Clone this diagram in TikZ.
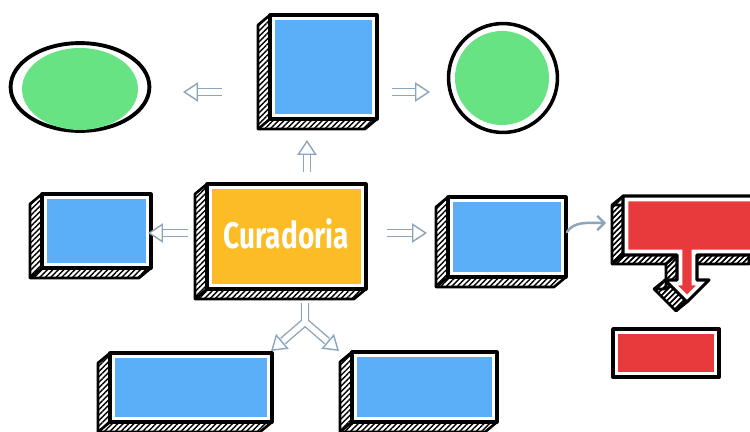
\documentclass[tikz,border=0pt]{standalone}
\usepackage{fontspec}
\usepackage{graphicx}
\usetikzlibrary{arrows.meta,patterns.meta,shapes.geometric,fit}
\newfontfamily\labelfont{Fira Sans}

\definecolor{boxblue}{HTML}{5BAFF8}
\definecolor{boxgreen}{HTML}{67E383}
\definecolor{boxorange}{HTML}{FBBC25}
\definecolor{boxred}{HTML}{E83A3D}
\definecolor{flow}{HTML}{8CA5BA}

\tikzset{
  hatch/.style={pattern={Lines[angle=45,distance=2.2pt,line width=0.8pt]},pattern color=black},
  sideline/.style={draw=black,line width=1.5pt,line join=round,line cap=round},
  face/.style={draw=black,line width=1.8pt,fill=#1,inner sep=0pt,outer sep=0pt,line join=round,
    path picture={\draw[white,line width=6pt] (path picture bounding box.south west) rectangle (path picture bounding box.north east);}},
  boxtext/.style={text=white,inner sep=0pt,anchor=base,font=\labelfont\bfseries\fontsize{21}{21}\selectfont},
  holbody/.style={draw=flow,line width=0.8pt,double=white,double distance=3.2pt,shorten >=6pt,line join=round},
  holtip/.style={draw=white,line width=1.5pt,-{Triangle[length=8.5pt,width=11pt,color=flow,fill=white,line width=0.8pt]}},
  flowline/.style={draw=flow,line width=1.4pt,line cap=round,-{Straight Barb[length=4pt,width=8pt]}},
  ring/.style={draw=black,fill=white,inner sep=0pt,line width=2.2pt}
}

% extruded box: name, left, top, right, bottom, fill colour
\newcommand\solidbox[6]{%
  \fill[hatch] (#2,#3) -- (#2-12,#3+10) -- (#2-12,#5+10) -- (#4-12,#5+10) -- (#4,#5) -- (#2,#5) -- cycle;
  \draw[sideline] (#2,#3) -- (#2-12,#3+10) -- (#2-12,#5+10) -- (#4-12,#5+10) -- (#4,#5);
  \draw[sideline] (#2,#5) -- (#2-12,#5+10);
  \node[face=#6,fit={(#2,#3) (#4,#5)}] (#1) {};
}

% hollow block arrow between two points
\newcommand\hollowarrow[2]{%
  \draw[holbody] (#1) -- (#2);
  \draw[holtip] (#1) -- (#2);
}

\begin{document}
\begin{tikzpicture}[x=0.02cm,y=-0.02cm]
\useasboundingbox (0,0) rectangle (750,432);

% green oval and disc
\node[ring,ellipse,minimum width=79pt,minimum height=50pt] (oval) at (80,87) {};
\fill[boxgreen] (80,89) ellipse [x radius=58,y radius=41];
\node[ring,circle,line width=2pt,minimum size=62pt] (disc) at (503,78) {};
\fill[boxgreen] (502,78) circle [radius=47];

% blue and orange boxes
\solidbox{top}{270}{15}{377}{119}{boxblue}
\solidbox{left}{42}{194}{151}{268}{boxblue}
\solidbox{right}{448}{197}{566}{277}{boxblue}
\solidbox{botleft}{110}{353}{272}{422}{boxblue}
\solidbox{botright}{352}{352}{497}{422}{boxblue}
\solidbox{center}{207}{184}{366}{289}{boxorange}
\node[boxtext] (title) at (center.center |- 0,248) {\scalebox{0.76}[1]{Curadoria}};

% red box with a downward arrow
\coordinate (r1) at (623,196);
\coordinate (r2) at (760,196);
\coordinate (r3) at (760,255);
\coordinate (r4) at (697,255);
\coordinate (r5) at (697,280);
\coordinate (r6) at (709,280);
\coordinate (r7) at (687,302);
\coordinate (r8) at (665,280);
\coordinate (r9) at (677,280);
\coordinate (r10) at (677,255);
\coordinate (r11) at (623,255);
\draw[hatch,sideline,shift={(-11,9)}] (623,196) -- (760,196) -- (760,255) -- (697,255) -- (697,280) -- (709,280) -- (687,302) -- (665,280) -- (677,280) -- (677,255) -- (623,255) -- cycle;
\foreach \a/\b in {r1/r11,r11/r10,r10/r9,r9/r8,r8/r7,r4/r3}
  \fill[hatch] (\a) -- (\b) -- ([shift={(-11,9)}]\b) -- ([shift={(-11,9)}]\a) -- cycle;
\foreach \c in {r1,r11,r10,r9,r8,r7,r3}
  \draw[sideline] (\c) -- ([shift={(-11,9)}]\c);
\begin{scope}
  \clip (r1) -- (r2) -- (r3) -- (r4) -- (r5) -- (r6) -- (r7) -- (r8) -- (r9) -- (r10) -- (r11) -- cycle;
  \fill[boxred] (600,180) rectangle (770,320);
  \draw[white,line width=6pt] (r1) -- (r2) -- (r3) -- (r4) -- (r5) -- (r6) -- (r7) -- (r8) -- (r9) -- (r10) -- (r11) -- cycle;
\end{scope}
\draw[black,line width=1.8pt,line join=round] (r1) -- (r2) -- (r3) -- (r4) -- (r5) -- (r6) -- (r7) -- (r8) -- (r9) -- (r10) -- (r11) -- cycle;

% plain red box
\node[face=boxred,line width=2.2pt,fit={(613,329) (719,377)}] (redlow) {};

% connectors
\coordinate (a1s) at (222,92);  \coordinate (a1e) at (183,92);
\coordinate (a2s) at (392,92);  \coordinate (a2e) at (430,92);
\coordinate (a3s) at (307,172); \coordinate (a3e) at (307,140);
\coordinate (a4s) at (188,233); \coordinate (a4e) at (148,233);
\coordinate (a5s) at (387,233); \coordinate (a5e) at (427,233);
\hollowarrow{a1s}{a1e}
\hollowarrow{a2s}{a2e}
\hollowarrow{a3s}{a3e}
\hollowarrow{a4s}{a4e}
\hollowarrow{a5s}{a5e}

% split arrow below the centre box
\coordinate (ys) at (305,303);
\coordinate (yj) at (305,322);
\coordinate (ylb) at (283,341); \coordinate (ylt) at (271,351);
\coordinate (yrb) at (327,341); \coordinate (yrt) at (339,351);
\draw[holbody,shorten >=0pt] (ys) -- (yj) -- (ylb) (yj) -- (yrb);
\draw[holtip] (yj) -- (ylt);
\draw[holtip] (yj) -- (yrt);

% curved link to the red box
\coordinate (cs) at (567,232);
\coordinate (ce) at (606,223);
\draw[flowline] (cs) .. controls (574,221) and (588,223) .. (ce);
\end{tikzpicture}
\end{document}
